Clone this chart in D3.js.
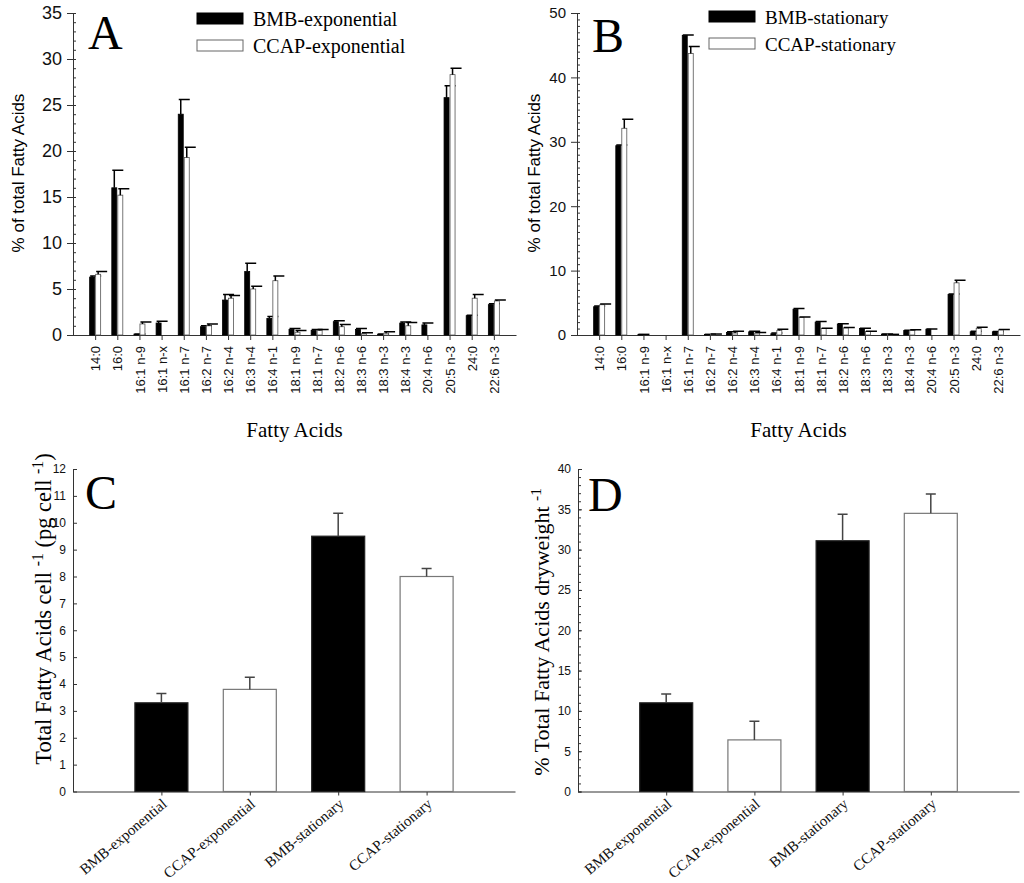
<!DOCTYPE html>
<html>
<title>Fatty acids</title>
<meta charset="UTF-8">
<script type="text/javascript" src="https://d3js.org/d3.v7.min.js"></script>
<style type="text/css">
	body { margin:0; background:white; }
	.sans { font-family: "Liberation Sans", Arial, sans-serif; }
	.serif { font-family: "Liberation Serif", "Times New Roman", serif; }
	.domain, .tick line { stroke: #333; }
	.tick text { fill: #111; }
</style>
<body>
<svg id="viz" width="1024" height="883"></svg>
</body>
<script type="text/javascript">

	// fatty acid profiles (panels A and B)
	var fattyAcids = ["14:0","16:0","16:1 n-9","16:1 n-x","16:1 n-7","16:2 n-7","16:2 n-4","16:3 n-4","16:4 n-1",
		"18:1 n-9","18:1 n-7","18:2 n-6","18:3 n-6","18:3 n-3","18:4 n-3","20:4 n-6","20:5 n-3","24:0","22:6 n-3"];

	var bmbExp     = [6.3, 16.0, 0.1, 1.3, 24.0, 0.9, 3.8, 6.9, 1.8, 0.6, 0.5, 1.45, 0.6, 0.1, 1.3, 1.1, 25.8, 2.1, 3.3];
	var bmbExpErr  = [0.1, 1.9, 0, 0.2, 1.6, 0.1, 0.6, 0.9, 0.2, 0.1, 0.1, 0.1, 0.1, 0, 0.1, 0.2, 1.3, 0.05, 0.1];
	var ccapExp    = [6.6, 15.2, 1.2, 0, 19.3, 1.0, 4.0, 5.0, 5.9, 0.3, 0.5, 0.9, 0.15, 0.2, 1.0, 0, 28.3, 4.0, 3.7];
	var ccapExpErr = [0.3, 0.7, 0.2, 0, 1.1, 0.2, 0.3, 0.3, 0.5, 0.2, 0.1, 0.25, 0.1, 0.15, 0.35, 0, 0.7, 0.4, 0.1];

	var bmbSta     = [4.4, 29.4, 0.1, 0, 46.5, 0.1, 0.4, 0.5, 0.2, 4.0, 2.0, 1.7, 1.0, 0.15, 0.7, 0.9, 6.3, 0.5, 0.5];
	var bmbStaErr  = [0.1, 0.1, 0, 0, 0.1, 0, 0.1, 0.1, 0.1, 0.1, 0.1, 0.05, 0.05, 0, 0.05, 0.05, 0.05, 0.1, 0.05];
	var ccapSta    = [4.7, 32.1, 0, 0, 43.7, 0.15, 0.3, 0.3, 0.7, 2.75, 1.0, 1.1, 0.55, 0.1, 0.7, 0, 8.1, 1.0, 0.8];
	var ccapStaErr = [0.1, 1.4, 0, 0, 1.1, 0, 0.3, 0.1, 0.2, 0.05, 0.05, 0.05, 0.05, 0, 0.1, 0, 0.4, 0.2, 0.05];

	// totals (panels C and D)
	var groups   = ["BMB-exponential","CCAP-exponential","BMB-stationary","CCAP-stationary"];
	var perCell  = [3.3, 3.8, 9.5, 8.0];
	var perCellErr = [0.35, 0.45, 0.85, 0.3];
	var perDry   = [11.0, 6.4, 31.1, 34.5];
	var perDryErr  = [1.1, 2.3, 3.3, 2.4];

	var svg = d3.select("#viz");

	function yAxisSplit(g, y, majors, minors, x) {
		// major ticks outside, minor ticks inside
		g.append("g").attr("class","sans")
			.attr("transform","translate(" + x + ",0)")
			.call(d3.axisLeft(y).tickValues(majors).tickSize(6).tickSizeOuter(0).tickPadding(5))
			.select(".domain").remove();
		g.append("g")
			.attr("transform","translate(" + x + ",0)")
			.call(d3.axisRight(y).tickValues(minors).tickSize(3).tickSizeOuter(0).tickFormat(""));
	}

	function profilePanel(opt) {
		var g = svg.append("g");
		var x = d3.scalePoint().domain(fattyAcids).range([opt.x0, opt.x1]).padding(1);
		var y = d3.scaleLinear().domain([0, opt.max]).range([335, 13]);

		yAxisSplit(g, y, d3.range(0, opt.max + 1, opt.step), d3.range(0, opt.max + 1, 1), opt.x0);
		g.selectAll(".tick text").style("font-size", opt.tickFont);

		var xa = g.append("g").attr("class","sans")
			.attr("transform","translate(0,335)")
			.call(d3.axisBottom(x).tickSize(5).tickSizeOuter(0));
		xa.selectAll("text")
			.attr("transform","rotate(-90)")
			.attr("x",-11).attr("y",0).attr("dy","0.35em")
			.style("text-anchor","end").style("font-size","13px");

		var series = [
			{v: opt.a, e: opt.ae, dx: -5.5, fill: "#000", stroke: "#000"},
			{v: opt.b, e: opt.be, dx: 0.5, fill: "#fff", stroke: "#555"}
		];
		series.forEach(function(s) {
			var rows = fattyAcids.map(function(f, i) { return {f: f, v: s.v[i], e: s.e[i]}; })
				.filter(function(d) { return d.v > 0; });
			g.selectAll(null).data(rows).enter().append("rect")
				.attr("x", function(d) { return x(d.f) + s.dx; })
				.attr("width", 5)
				.attr("y", function(d) { return y(d.v); })
				.attr("height", function(d) { return y(0) - y(d.v); })
				.attr("fill", s.fill).attr("stroke", s.stroke).attr("stroke-width", 0.8);
			g.selectAll(null).data(rows).enter().append("path")
				.attr("d", function(d) {
					var cx = x(d.f) + s.dx + 2.5, t = y(d.v + d.e);
					return "M" + cx + "," + y(d.v) + "V" + t + "M" + (cx - 2) + "," + t + "H" + (cx + 9);
				})
				.attr("stroke", "#000").attr("stroke-width", 1.5).attr("fill", "none");
		});

		// y title, x title, letter
		g.append("text").attr("class","sans")
			.attr("transform","translate(" + opt.yt + ",173) rotate(-90)")
			.attr("text-anchor","middle").style("font-size","17px")
			.text("% of total Fatty Acids");
		g.append("text").attr("class","serif")
			.attr("x", (opt.x0 + opt.x1) / 2).attr("y", 437)
			.attr("text-anchor","middle").style("font-size","21px")
			.text("Fatty Acids");
		g.append("text").attr("class","serif")
			.attr("x", opt.lx).attr("y", opt.ly).style("font-size","48px")
			.text(opt.letter);

		// legend
		opt.legend.forEach(function(name, i) {
			g.append("rect").attr("x", opt.legX).attr("y", opt.legY[i]).attr("width", 46).attr("height", 11)
				.attr("fill", i ? "#fff" : "#000").attr("stroke", i ? "#666" : "#000");
			g.append("text").attr("class","serif")
				.attr("x", opt.legX + 56).attr("y", opt.legY[i] + 13)
				.style("font-size", opt.legFont).text(name);
		});
	}

	profilePanel({x0: 73, x1: 516, max: 35, step: 5, tickFont: "18px", a: bmbExp, ae: bmbExpErr, b: ccapExp, be: ccapExpErr,
		yt: 24, lx: 88, ly: 49, letter: "A", legX: 197, legY: [13, 40], legFont: "20px",
		legend: ["BMB-exponential","CCAP-exponential"]});
	profilePanel({x0: 577, x1: 1020, max: 50, step: 10, tickFont: "15px", a: bmbSta, ae: bmbStaErr, b: ccapSta, be: ccapStaErr,
		yt: 540, lx: 592, ly: 52, letter: "B", legX: 709, legY: [11, 38], legFont: "19px",
		legend: ["BMB-stationary","CCAP-stationary"]});

	function totalPanel(opt) {
		var g = svg.append("g");
		var x = d3.scalePoint().domain(groups).range([opt.x0, opt.x1]).padding(1);
		var y = d3.scaleLinear().domain([0, opt.max]).range([791.5, 469]);

		g.append("g").attr("class","sans")
			.attr("transform","translate(" + opt.x0 + ",0)")
			.call(d3.axisLeft(y).tickValues(d3.range(0, opt.max + 1, opt.step)).tickSize(-4).tickSizeOuter(0).tickPadding(7))
			.selectAll("text").style("font-size","12px");
		if (opt.minor) {
			g.append("g")
				.attr("transform","translate(" + opt.x0 + ",0)")
				.call(d3.axisRight(y).tickValues(d3.range(0, opt.max + 1, 1)).tickSize(3).tickSizeOuter(0).tickFormat(""))
				.select(".domain").remove();
		}

		var xa = g.append("g").attr("class","serif")
			.attr("transform","translate(0,791.5)")
			.call(d3.axisBottom(x).tickSize(4).tickSizeOuter(0));
		xa.selectAll("text")
			.attr("x",0).attr("y",0).attr("dy",0)
			.attr("transform","translate(6,14) rotate(-40)")
			.style("text-anchor","end").style("font-size","15px");

		var rows = groups.map(function(n, i) { return {n: n, v: opt.v[i], e: opt.e[i], i: i}; });
		g.selectAll(null).data(rows).enter().append("rect")
			.attr("x", function(d) { return x(d.n) - 26.5; })
			.attr("width", 53)
			.attr("y", function(d) { return y(d.v); })
			.attr("height", function(d) { return y(0) - y(d.v); })
			.attr("fill", function(d) { return d.i % 2 ? "#fff" : "#000"; })
			.attr("stroke", function(d) { return d.i % 2 ? "#777" : "#222"; })
			.attr("stroke-width", 1.2);
		g.selectAll(null).data(rows).enter().append("path")
			.attr("d", function(d) {
				var cx = x(d.n), t = y(d.v + d.e);
				return "M" + cx + "," + y(d.v) + "V" + t + "M" + (cx - 5) + "," + t + "H" + (cx + 5);
			})
			.attr("stroke", "#444").attr("stroke-width", 1.5).attr("fill", "none");

		g.append("text").attr("class","serif")
			.attr("x", opt.lx).attr("y", opt.ly).style("font-size","48px")
			.text(opt.letter);

		var t = g.append("text").attr("class","serif")
			.attr("transform","translate(" + opt.yt[0] + "," + opt.yt[1] + ") rotate(-90)")
			.attr("text-anchor","middle").style("font-size", opt.titleFont);
		opt.title.forEach(function(p) {
			t.append("tspan").attr("baseline-shift", p.sup ? "super" : null)
				.style("font-size", p.sup ? "0.7em" : null).text(p.s);
		});
	}

	totalPanel({x0: 73, x1: 515, max: 12, step: 1, minor: false, v: perCell, e: perCellErr,
		lx: 85, ly: 509, letter: "C", yt: [51, 609], titleFont: "22.5px",
		title: [{s: "Total Fatty Acids cell "}, {s: "-1", sup: true}, {s: " (pg cell "}, {s: "-1", sup: true}, {s: ")"}]});
	totalPanel({x0: 578, x1: 1019, max: 40, step: 5, minor: true, v: perDry, e: perDryErr,
		lx: 588, ly: 511, letter: "D", yt: [549, 632], titleFont: "22px",
		title: [{s: "% Total Fatty Acids dryweight "}, {s: "-1", sup: true}]});

</script>
</html>
